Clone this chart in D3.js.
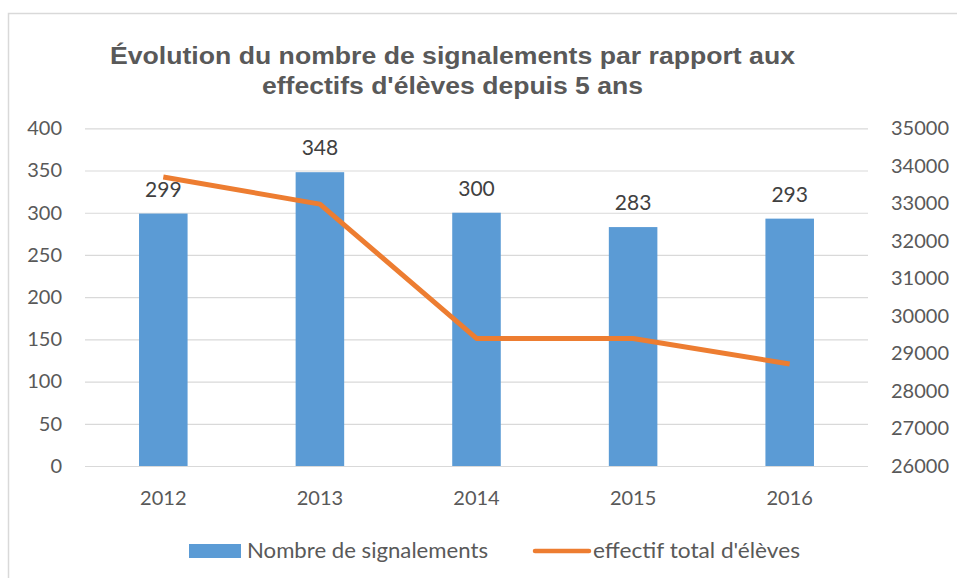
<!DOCTYPE html>
<html><head><meta charset="utf-8">
<script src="https://cdn.jsdelivr.net/npm/d3@7"></script>
<style>body{margin:0;background:#fff}svg{display:block}</style>
</head><body>
<svg id="c" width="957" height="578"></svg>
<script>
const years = ["2012","2013","2014","2015","2016"];
const signalements = [299, 348, 300, 283, 293];
const effectifs = [33700, 32980, 29400, 29400, 28720];
const leftTicks = [0,50,100,150,200,250,300,350,400];
const rightTicks = [26000,27000,28000,29000,30000,31000,32000,33000,34000,35000];
const titleLines = ["Évolution du nombre de signalements par rapport aux","effectifs d'élèves depuis 5 ans"];
const legendLabels = ["Nombre de signalements","effectif total d'élèves"];

const svg = d3.select("#c");
const L = 85, R = 868, T = 128.3, B = 466;
const font = "Lato, 'Open Sans', sans-serif";
const txt = "#595959";

svg.append("rect").attr("x",8.5).attr("y",13.5).attr("width",960).attr("height",570)
  .attr("fill","#fff").attr("stroke","#d9d9d9").attr("stroke-width",1.5);

const x = d3.scaleBand().domain(years).range([L,R]).paddingInner(0.69).paddingOuter(0.345);
const y = d3.scaleLinear().domain([0,400]).range([B,T]);
const y2 = d3.scaleLinear().domain([26000,35000]).range([B,T]);

// gridlines
const gl = svg.append("g").call(d3.axisLeft(y).tickValues(leftTicks).tickSize(-(R-L)).tickFormat(""))
  .attr("transform",`translate(${L},0)`);
gl.select(".domain").remove();
gl.selectAll("line").attr("stroke","#d9d9d9").attr("stroke-width",1.2);

// left axis labels
const la = svg.append("g").attr("transform",`translate(${L},0)`)
  .call(d3.axisLeft(y).tickValues(leftTicks).tickSize(0).tickPadding(23));
la.select(".domain").remove();
la.selectAll("text").attr("font-family",font).attr("font-size",20).attr("fill",txt);

const ra = svg.append("g").attr("transform",`translate(${R},0)`)
  .call(d3.axisRight(y2).tickValues(rightTicks).tickSize(0).tickPadding(23).tickFormat(d3.format("d")));
ra.select(".domain").remove();
ra.selectAll("text").attr("font-family",font).attr("font-size",20).attr("fill",txt);

const xa = svg.append("g").attr("transform",`translate(0,${B})`)
  .call(d3.axisBottom(x).tickSize(0).tickPadding(25));
xa.select(".domain").remove();
xa.selectAll("text").attr("font-family",font).attr("font-size",20).attr("fill",txt);

// bars
svg.append("g").selectAll("rect").data(years).join("rect")
  .attr("x",d=>x(d)).attr("width",x.bandwidth())
  .attr("y",(d,i)=>y(signalements[i])).attr("height",(d,i)=>B-y(signalements[i]))
  .attr("fill","#5B9BD5");

// data labels
svg.append("g").selectAll("text").data(years).join("text")
  .attr("x",d=>x(d)+x.bandwidth()/2).attr("y",(d,i)=>y(signalements[i])-17)
  .attr("text-anchor","middle").attr("font-family",font).attr("font-size",21).attr("fill","#404040")
  .text((d,i)=>signalements[i]);

// line
const line = d3.line().x((d,i)=>x(years[i])+x.bandwidth()/2).y(d=>y2(d));
svg.append("path").datum(effectifs).attr("d",line).attr("fill","none")
  .attr("stroke","#ED7D31").attr("stroke-width",5).attr("stroke-linejoin","round");

// title
const tw = [685, 381];
svg.append("g").selectAll("text").data(titleLines).join("text")
  .attr("x",452.5).attr("y",(d,i)=>64+i*30).attr("text-anchor","middle")
  .attr("font-family","'Liberation Sans', Arial, sans-serif").attr("font-weight","bold")
  .attr("font-size",23).attr("fill",txt)
  .attr("textLength",(d,i)=>tw[i]).attr("lengthAdjust","spacingAndGlyphs").text(d=>d);

// legend
const lg = svg.append("g");
lg.append("rect").attr("x",189).attr("y",544).attr("width",52).attr("height",14).attr("fill","#5B9BD5");
lg.append("text").attr("x",247).attr("y",558).attr("font-family",font).attr("font-size",21).attr("fill",txt)
  .attr("textLength",241).attr("lengthAdjust","spacingAndGlyphs").text(legendLabels[0]);
lg.append("line").attr("x1",535).attr("x2",589).attr("y1",551).attr("y2",551)
  .attr("stroke","#ED7D31").attr("stroke-width",4.5).attr("stroke-linecap","round");
lg.append("text").attr("x",593).attr("y",558).attr("font-family",font).attr("font-size",21).attr("fill",txt)
  .attr("textLength",207).attr("lengthAdjust","spacingAndGlyphs").text(legendLabels[1]);
</script>
</body></html>
